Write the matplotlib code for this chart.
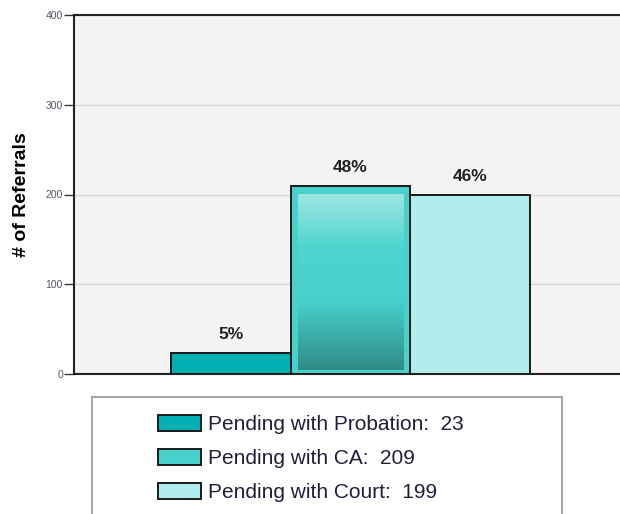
import matplotlib.pyplot as plt
import matplotlib.patches as mpatches
from matplotlib.colors import LinearSegmentedColormap
import numpy as np

plt.rcParams['font.family'] = ['Liberation Sans', 'DejaVu Sans']

# dane
categories = ['Pending with Probation', 'Pending with CA', 'Pending with Court']
values = [23, 209, 199]
colors = ['#00b0b3', '#48d1cc', '#b0ecec']
yticks = [0, 100, 200, 300, 400]

total = sum(values)
percents = [f'{int(round(v * 100 / total))}%' for v in values]

fig = plt.figure(figsize=(6.2, 5.14), dpi=100)
ax = fig.add_axes([74 / 620, 140 / 514, 1 - 74 / 620, 359 / 514])
ax.set_facecolor('#f3f3f3')

x = np.arange(len(values))
bars = ax.bar(x, values, width=1.0, color=colors, edgecolor='#1a1a1a',
              linewidth=1.4, zorder=3)

# gradient na srodkowym slupku
b = bars[1]
bx0, bw, bh = b.get_x(), b.get_width(), b.get_height()
grad = np.linspace(0, 1, 256).reshape(-1, 1)
cmap = LinearSegmentedColormap.from_list(
    'g', [(0, '#9fe6e2'), (0.3, '#4fd4cf'), (0.6, '#48d1cc'), (1.0, '#2f8c88')])
pad_x = bw * 0.06
pad_y = 5
ax.imshow(grad, extent=[bx0 + pad_x, bx0 + bw - pad_x, pad_y, bh - pad_y * 1.8],
          aspect='auto', cmap=cmap, origin='upper', zorder=4)

# etykiety procentowe
for xi, v, p in zip(x, values, percents):
    ax.text(xi, v + 21, p, ha='center', va='center', fontsize=12.5,
            fontweight='bold', color='#222222', zorder=5)

ax.set_xlim(-0.5 - 97 / 120, 2.5 + 90 / 120)
ax.set_ylim(0, 400)
ax.set_yticks(yticks)
ax.set_xticks([])
ax.tick_params(axis='y', labelsize=7.5, labelcolor='#555566', length=7,
               width=1, color='#333333', pad=1)
ax.yaxis.grid(True, color='#d8d8d8', linewidth=1, zorder=0)
ax.set_axisbelow(True)

for s in ['left', 'bottom', 'top']:
    ax.spines[s].set_color('#222222')
    ax.spines[s].set_linewidth(1.5)
ax.spines['right'].set_visible(False)

ax.set_ylabel('# of Referrals', fontsize=14, fontweight='bold', labelpad=11)

# ramka legendy
frame = mpatches.Rectangle((92 / 620, -0.2), 470 / 620, 0.2 + 117 / 514,
                           transform=fig.transFigure, fill=False,
                           edgecolor='#a6a6a6', linewidth=1.5)
fig.patches.append(frame)

handles = [mpatches.Patch(facecolor=c, edgecolor='#1a1a1a', linewidth=1.4)
           for c in colors]
labels = [f'{c}:  {v}' for c, v in zip(categories, values)]
fig.legend(handles, labels, loc='upper left',
           bbox_to_anchor=(148 / 620, 1 - 405 / 514), frameon=False,
           fontsize=15, handlelength=2.06, handleheight=0.77,
           handletextpad=0.33, labelspacing=0.72, labelcolor='#1f1f3a',
           borderpad=0)

plt.savefig('out.png', dpi=100)
